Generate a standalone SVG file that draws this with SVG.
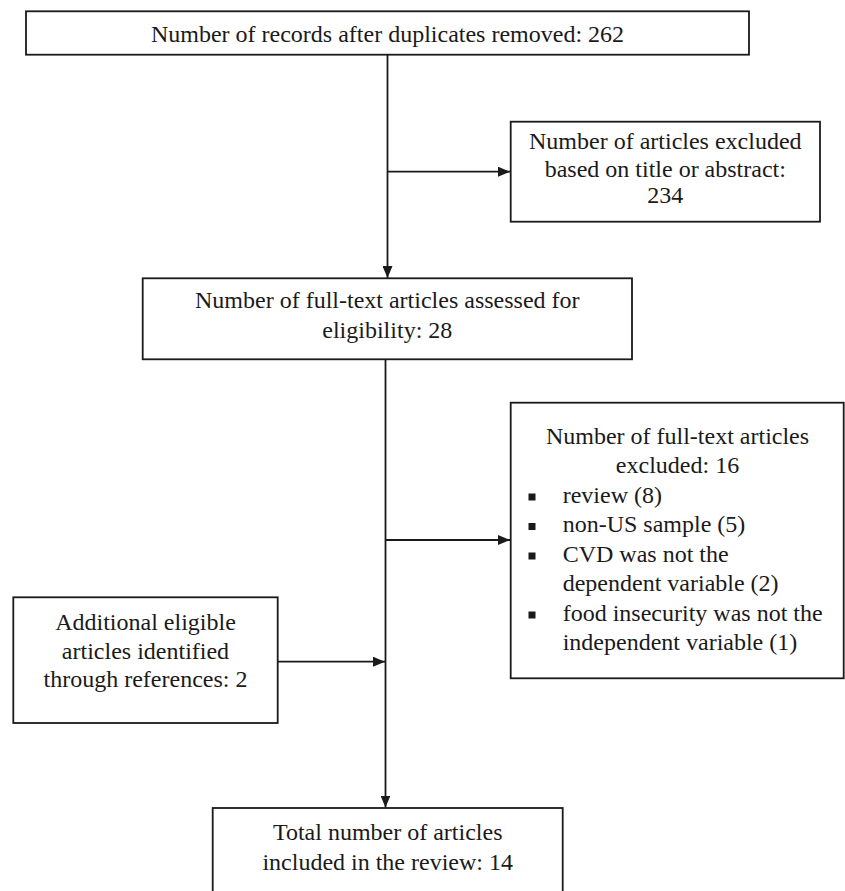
<svg xmlns="http://www.w3.org/2000/svg" width="845" height="891" viewBox="0 0 845 891">
<style>
  .box { fill: #ffffff; stroke: #1a1a1a; stroke-width: 1.8; }
  .t { font-family: "Liberation Serif", "Times New Roman", serif; font-size: 24px; fill: #1a1a1a; }
  .c { text-anchor: middle; }
  .ln { stroke: #1a1a1a; stroke-width: 1.8; fill: none; }
  .bul { fill: #1a1a1a; }
</style>
<defs>
  <marker id="arr" markerWidth="12" markerHeight="10" refX="12" refY="5" orient="auto" markerUnits="userSpaceOnUse">
    <path d="M0,0 L12,5 L0,10 z" fill="#1a1a1a"/>
  </marker>
</defs>
<rect width="845" height="891" fill="#ffffff"/>
<g id="connectors">
  <line class="ln" x1="387.5" y1="55" x2="387.5" y2="278" marker-end="url(#arr)"/>
  <line class="ln" x1="387.5" y1="171.7" x2="510" y2="171.7" marker-end="url(#arr)"/>
  <line class="ln" x1="385.5" y1="359.5" x2="385.5" y2="807.5" marker-end="url(#arr)"/>
  <line class="ln" x1="385.5" y1="540" x2="510" y2="540" marker-end="url(#arr)"/>
  <line class="ln" x1="278" y1="661.7" x2="385" y2="661.7" marker-end="url(#arr)"/>
</g>
<g id="n1">
  <rect class="box" x="26" y="11.3" width="723" height="43.4"/>
  <text class="t c" x="387.5" y="41.5">Number of records after duplicates removed: 262</text>
</g>
<g id="n2">
  <rect class="box" x="510.7" y="121.7" width="309.3" height="100"/>
  <text class="t c" x="665.3" y="149">Number of articles excluded</text>
  <text class="t c" x="665.3" y="176.5">based on title or abstract:</text>
  <text class="t c" x="665.3" y="203">234</text>
</g>
<g id="n3">
  <rect class="box" x="142.7" y="278.3" width="489.3" height="81"/>
  <text class="t c" x="387.3" y="308">Number of full-text articles assessed for</text>
  <text class="t c" x="387.3" y="338">eligibility: 28</text>
</g>
<g id="n4">
  <rect class="box" x="510.7" y="402.7" width="333" height="275.6"/>
  <text class="t c" x="677.5" y="443.5">Number of full-text articles</text>
  <text class="t c" x="677.5" y="473">excluded: 16</text>
  <rect class="bul" x="528.5" y="493.5" width="7" height="7"/>
  <text class="t" x="562.7" y="502.5">review (8)</text>
  <rect class="bul" x="528.5" y="523" width="7" height="7"/>
  <text class="t" x="562.7" y="532">non-US sample (5)</text>
  <rect class="bul" x="528.5" y="552.5" width="7" height="7"/>
  <text class="t" x="562.7" y="561.5">CVD was not the</text>
  <text class="t" x="562.7" y="591">dependent variable (2)</text>
  <rect class="bul" x="528.5" y="611.5" width="7" height="7"/>
  <text class="t" x="562.7" y="620.5">food insecurity was not the</text>
  <text class="t" x="562.7" y="650">independent variable (1)</text>
</g>
<g id="n5">
  <rect class="box" x="13.3" y="597.3" width="264.4" height="125.7"/>
  <text class="t c" x="145.5" y="630">Additional eligible</text>
  <text class="t c" x="145.5" y="658.5">articles identified</text>
  <text class="t c" x="145.5" y="687">through references: 2</text>
</g>
<g id="n6">
  <rect class="box" x="212.7" y="808" width="350" height="100"/>
  <text class="t c" x="387.7" y="840">Total number of articles</text>
  <text class="t c" x="387.7" y="869.5">included in the review: 14</text>
</g>
</svg>
